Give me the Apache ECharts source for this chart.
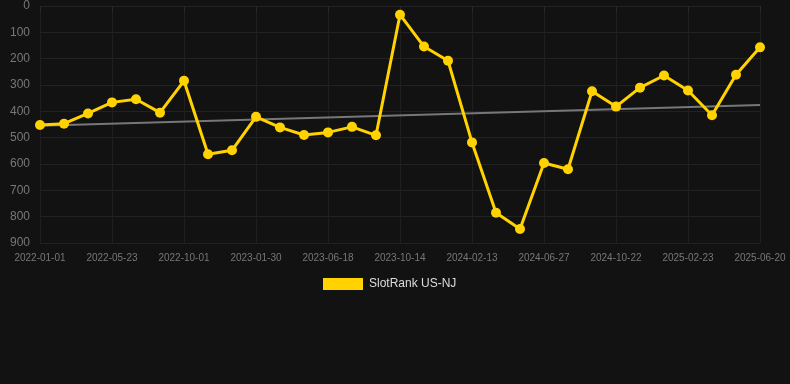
<!DOCTYPE html>
<html>
<head>
<meta charset="utf-8">
<script src="https://cdn.jsdelivr.net/npm/echarts@6/dist/echarts.min.js"></script>
<style>
  html, body { margin: 0; padding: 0; background: #121212; }
  #slotRank { width: 790px; height: 384px; }
</style>
</head>
<body>
<div id="slotRank"></div>
<script>
var slotRank = echarts.init(document.getElementById("slotRank"));

// one point per date, every 3rd date is shown on the axis
let dates = [
  "2022-01-01", "2022-02-17", "2022-04-05",
  "2022-05-23", "2022-07-06", "2022-08-18",
  "2022-10-01", "2022-11-10", "2022-12-20",
  "2023-01-30", "2023-03-17", "2023-05-02",
  "2023-06-18", "2023-07-27", "2023-09-04",
  "2023-10-14", "2023-11-24", "2024-01-03",
  "2024-02-13", "2024-03-29", "2024-05-13",
  "2024-06-27", "2024-08-05", "2024-09-13",
  "2024-10-22", "2024-12-02", "2025-01-12",
  "2025-02-23", "2025-04-03", "2025-05-12",
  "2025-06-20"
];

let rankValues = [
  452, 447, 408, 366, 354, 405, 284, 563, 548, 421,
  461, 490, 480, 459, 491, 33, 154, 208, 518, 785,
  847, 596, 620, 324, 382, 310, 264, 321, 415, 261,
  157
];

let trendStart = 455;
let trendEnd = 376;

let trendData = rankValues.map(function () { return null; });
trendData[0] = trendStart;
trendData[trendData.length - 1] = trendEnd;

slotRank.setOption({
  backgroundColor: "#121212",
  animation: false,
  grid: {
    left: 40,
    right: 30,
    top: 6,
    bottom: 141
  },
  legend: {
    top: 273,
    left: 318,
    itemWidth: 40,
    itemHeight: 12,
    itemGap: 10,
    icon: "rect",
    textStyle: { color: "#dddddd", fontSize: 12, padding: [0, 0, 0, 1] },
    data: ["SlotRank US-NJ"]
  },
  xAxis: {
    type: "category",
    boundaryGap: false,
    data: dates,
    axisLine: { show: false },
    axisTick: {
      show: true,
      interval: 2,
      length: 5,
      lineStyle: { color: "#2a2a2a" }
    },
    axisLabel: {
      interval: 2,
      color: "#777777",
      fontSize: 10,
      margin: 10
    },
    splitLine: {
      show: true,
      interval: 2,
      lineStyle: { color: "#1f1f1f" }
    }
  },
  yAxis: {
    type: "value",
    inverse: true,
    min: 0,
    max: 900,
    interval: 100,
    axisLine: { show: false },
    axisTick: { show: false },
    axisLabel: { color: "#777777", fontSize: 12, margin: 10 },
    splitLine: { lineStyle: { color: "#222222" } }
  },
  series: [
    {
      name: "Trend",
      type: "line",
      data: trendData,
      connectNulls: true,
      symbol: "none",
      lineStyle: { color: "#777777", width: 2 },
      z: 1
    },
    {
      name: "SlotRank US-NJ",
      type: "line",
      data: rankValues,
      symbol: "circle",
      symbolSize: 10,
      itemStyle: { color: "#FFD200" },
      lineStyle: { color: "#FFD200", width: 3 },
      z: 2
    }
  ]
});
</script>
</body>
</html>
